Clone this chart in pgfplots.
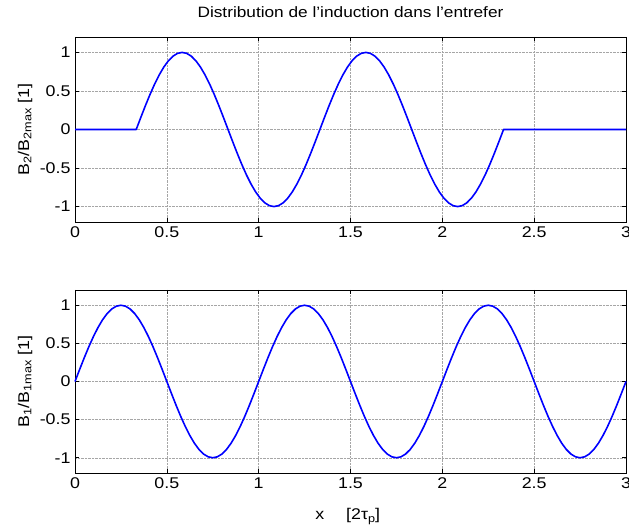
\documentclass[border=0pt]{standalone}
\usepackage{fontspec}
\setmainfont{Liberation Sans}[FakeStretch=1.15]
\usepackage{pgfplots}
\pgfplotsset{compat=1.18}

\newcommand{\figfont}{\fontsize{15.5}{17}\selectfont}
\newcommand{\titlefont}{\fontsize{15}{17}\selectfont}
\newcommand{\sub}[1]{\raisebox{-0.3ex}{\fontsize{11}{12}\selectfont #1}}

\pgfplotsset{
  matlabaxis/.style={
    scale only axis,
    width=551pt,
    xmin=0, xmax=3,
    ymin=-1.2, ymax=1.2,
    xtick={0,0.5,...,3},
    ytick={-1,-0.5,0,0.5,1},
    xticklabels={0,0.5,1,1.5,2,2.5,3},
    yticklabels={-1,-0.5,0,0.5,1},
    tick align=inside,
    major tick length=4pt,
    xtick pos=both, ytick pos=both,
    grid=major,
    major grid style={densely dotted, gray!70, line width=0.5pt},
    axis line style={black, line width=0.8pt},
    every tick/.style={black, line width=0.6pt},
    tick label style={font=\figfont},
    label style={font=\figfont},
    title style={font=\titlefont},
    /pgf/number format/assume math mode=true,
    xticklabel style={yshift=-1pt},
    yticklabel style={xshift=-1pt},
    clip=false,
  },
  field/.style={blue, line width=1.6pt, line join=round},
}

\begin{document}
\begin{tikzpicture}[x=1pt, y=1pt]

% stator-side field B2: zero outside the winding region, sinusoidal inside
\begin{axis}[
  matlabaxis,
  at={(75pt,303pt)}, anchor=south west,
  height=185pt,
  title={Distribution de l'induction dans l'entrefer},
  title style={at={(axis description cs:0.5,1)}, anchor=base, yshift=13pt},
  ylabel={B\sub{2}/B\sub{2max} [1]},
  ylabel style={at={(axis description cs:-0.0907,0.5)}, anchor=center},
]
\addplot[field] table {
x y
0 0
0.3333 0
0.3583 0.1564
0.3833 0.3090
0.4083 0.4540
0.4333 0.5878
0.4583 0.7071
0.4833 0.8090
0.5083 0.8910
0.5333 0.9511
0.5583 0.9877
0.5833 1
0.6083 0.9877
0.6333 0.9511
0.6583 0.8910
0.6833 0.8090
0.7083 0.7071
0.7333 0.5878
0.7583 0.4540
0.7833 0.3090
0.8083 0.1564
0.8333 0
0.8583 -0.1564
0.8833 -0.3090
0.9083 -0.4540
0.9333 -0.5878
0.9583 -0.7071
0.9833 -0.8090
1.0083 -0.8910
1.0333 -0.9511
1.0583 -0.9877
1.0833 -1
1.1083 -0.9877
1.1333 -0.9511
1.1583 -0.8910
1.1833 -0.8090
1.2083 -0.7071
1.2333 -0.5878
1.2583 -0.4540
1.2833 -0.3090
1.3083 -0.1564
1.3333 0
1.3583 0.1564
1.3833 0.3090
1.4083 0.4540
1.4333 0.5878
1.4583 0.7071
1.4833 0.8090
1.5083 0.8910
1.5333 0.9511
1.5583 0.9877
1.5833 1
1.6083 0.9877
1.6333 0.9511
1.6583 0.8910
1.6833 0.8090
1.7083 0.7071
1.7333 0.5878
1.7583 0.4540
1.7833 0.3090
1.8083 0.1564
1.8333 0
1.8583 -0.1564
1.8833 -0.3090
1.9083 -0.4540
1.9333 -0.5878
1.9583 -0.7071
1.9833 -0.8090
2.0083 -0.8910
2.0333 -0.9511
2.0583 -0.9877
2.0833 -1
2.1083 -0.9877
2.1333 -0.9511
2.1583 -0.8910
2.1833 -0.8090
2.2083 -0.7071
2.2333 -0.5878
2.2583 -0.4540
2.2833 -0.3090
2.3083 -0.1564
2.3333 0
3 0
};
\end{axis}

% rotor-side field B1 over three pole pairs
\begin{axis}[
  matlabaxis,
  at={(75pt,52pt)}, anchor=south west,
  height=183pt,
  ylabel={B\sub{1}/B\sub{1max} [1]},
  ylabel style={at={(axis description cs:-0.0907,0.5)}, anchor=center},
  xlabel={x\hspace{22pt}[2τ\sub{p}]},
  xlabel style={at={(axis description cs:0.495,-0.255)}, anchor=base},
]
\addplot[field] table {
x y
0 0
0.025 0.1564
0.05 0.3090
0.075 0.4540
0.1 0.5878
0.125 0.7071
0.15 0.8090
0.175 0.8910
0.2 0.9511
0.225 0.9877
0.25 1
0.275 0.9877
0.3 0.9511
0.325 0.8910
0.35 0.8090
0.375 0.7071
0.4 0.5878
0.425 0.4540
0.45 0.3090
0.475 0.1564
0.5 0
0.525 -0.1564
0.55 -0.3090
0.575 -0.4540
0.6 -0.5878
0.625 -0.7071
0.65 -0.8090
0.675 -0.8910
0.7 -0.9511
0.725 -0.9877
0.75 -1
0.775 -0.9877
0.8 -0.9511
0.825 -0.8910
0.85 -0.8090
0.875 -0.7071
0.9 -0.5878
0.925 -0.4540
0.95 -0.3090
0.975 -0.1564
1 0
1.025 0.1564
1.05 0.3090
1.075 0.4540
1.1 0.5878
1.125 0.7071
1.15 0.8090
1.175 0.8910
1.2 0.9511
1.225 0.9877
1.25 1
1.275 0.9877
1.3 0.9511
1.325 0.8910
1.35 0.8090
1.375 0.7071
1.4 0.5878
1.425 0.4540
1.45 0.3090
1.475 0.1564
1.5 0
1.525 -0.1564
1.55 -0.3090
1.575 -0.4540
1.6 -0.5878
1.625 -0.7071
1.65 -0.8090
1.675 -0.8910
1.7 -0.9511
1.725 -0.9877
1.75 -1
1.775 -0.9877
1.8 -0.9511
1.825 -0.8910
1.85 -0.8090
1.875 -0.7071
1.9 -0.5878
1.925 -0.4540
1.95 -0.3090
1.975 -0.1564
2 0
2.025 0.1564
2.05 0.3090
2.075 0.4540
2.1 0.5878
2.125 0.7071
2.15 0.8090
2.175 0.8910
2.2 0.9511
2.225 0.9877
2.25 1
2.275 0.9877
2.3 0.9511
2.325 0.8910
2.35 0.8090
2.375 0.7071
2.4 0.5878
2.425 0.4540
2.45 0.3090
2.475 0.1564
2.5 0
2.525 -0.1564
2.55 -0.3090
2.575 -0.4540
2.6 -0.5878
2.625 -0.7071
2.65 -0.8090
2.675 -0.8910
2.7 -0.9511
2.725 -0.9877
2.75 -1
2.775 -0.9877
2.8 -0.9511
2.825 -0.8910
2.85 -0.8090
2.875 -0.7071
2.9 -0.5878
2.925 -0.4540
2.95 -0.3090
2.975 -0.1564
3 0
};
\end{axis}

% page frame: the figure area, with the last tick label running to its edge
\pgfresetboundingbox
\useasboundingbox (0,0) rectangle (629,525);
\end{tikzpicture}
\end{document}
